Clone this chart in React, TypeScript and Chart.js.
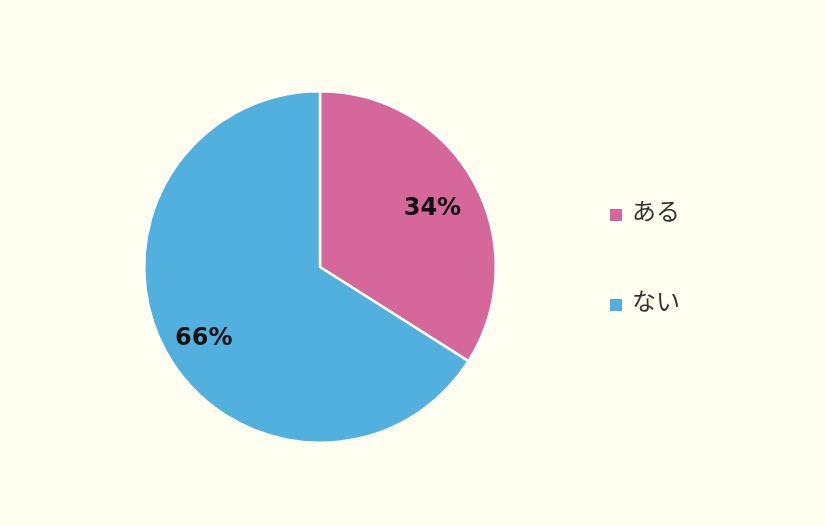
import React, { useEffect, useRef } from "react";
import { Chart, registerables } from "chart.js";

Chart.register(...registerables);

const categories = ["ある", "ない"];
const values = [34, 66];
const valueLabels = ["34%", "66%"];
const colors = ["#D6679A", "#52B0DE"];

const BG = "#FFFEF0";
const labelRadiusFactors = [0.73, 0.755];
const labelDy = [4, 8];

const labelPlugin = {
  id: "sliceLabels",
  afterDatasetsDraw(chart: any) {
    const ctx = chart.ctx;
    const meta = chart.getDatasetMeta(0);
    ctx.save();
    ctx.font = "bold 24px 'DejaVu Sans'";
    ctx.fillStyle = "#111";
    ctx.textAlign = "center";
    ctx.textBaseline = "middle";
    meta.data.forEach((arc: any, i: number) => {
      const p = arc.getProps(["x", "y", "startAngle", "endAngle", "outerRadius"], true);
      const mid = (p.startAngle + p.endAngle) / 2;
      const r = p.outerRadius * labelRadiusFactors[i];
      ctx.fillText(valueLabels[i], p.x + Math.cos(mid) * r, p.y + Math.sin(mid) * r + labelDy[i]);
    });
    ctx.restore();
  },
};

const legendPlugin = {
  id: "customLegend",
  afterDraw(chart: any) {
    const ctx = chart.ctx;
    ctx.save();
    const x = 610;
    const ys = [215, 305];
    categories.forEach((c, i) => {
      ctx.fillStyle = "#ffffff";
      ctx.fillRect(x - 1.5, ys[i] - 7.5, 15, 15);
      ctx.fillStyle = colors[i];
      ctx.fillRect(x, ys[i] - 6, 12, 12);
      ctx.fillStyle = "#333333";
      ctx.font = "24px 'Noto Sans CJK JP'";
      ctx.textAlign = "left";
      ctx.textBaseline = "middle";
      ctx.fillText(c, 632, ys[i] - 4);
    });
    ctx.restore();
  },
};

const bgPlugin = {
  id: "bg",
  beforeDraw(chart: any) {
    const ctx = chart.ctx;
    ctx.save();
    ctx.fillStyle = BG;
    ctx.fillRect(0, 0, chart.width, chart.height);
    ctx.restore();
  },
};

export default function App() {
  const ref = useRef<HTMLCanvasElement>(null);
  useEffect(() => {
    document.body.style.margin = "0";
    document.body.style.background = BG;
    const chart = new Chart(ref.current!, {
      type: "pie",
      data: {
        labels: categories,
        datasets: [
          {
            data: values,
            backgroundColor: colors,
            borderColor: "#ffffff",
            borderWidth: 2.5,
          },
        ],
      },
      options: {
        responsive: false,
        animation: false,
        layout: { padding: { left: 143, right: 328, top: 90, bottom: 82 } },
        plugins: { legend: { display: false }, tooltip: { enabled: false } },
      },
      plugins: [bgPlugin, labelPlugin, legendPlugin],
    });
    return () => chart.destroy();
  }, []);
  return <canvas ref={ref} width={825} height={526} style={{ display: "block" }} />;
}
